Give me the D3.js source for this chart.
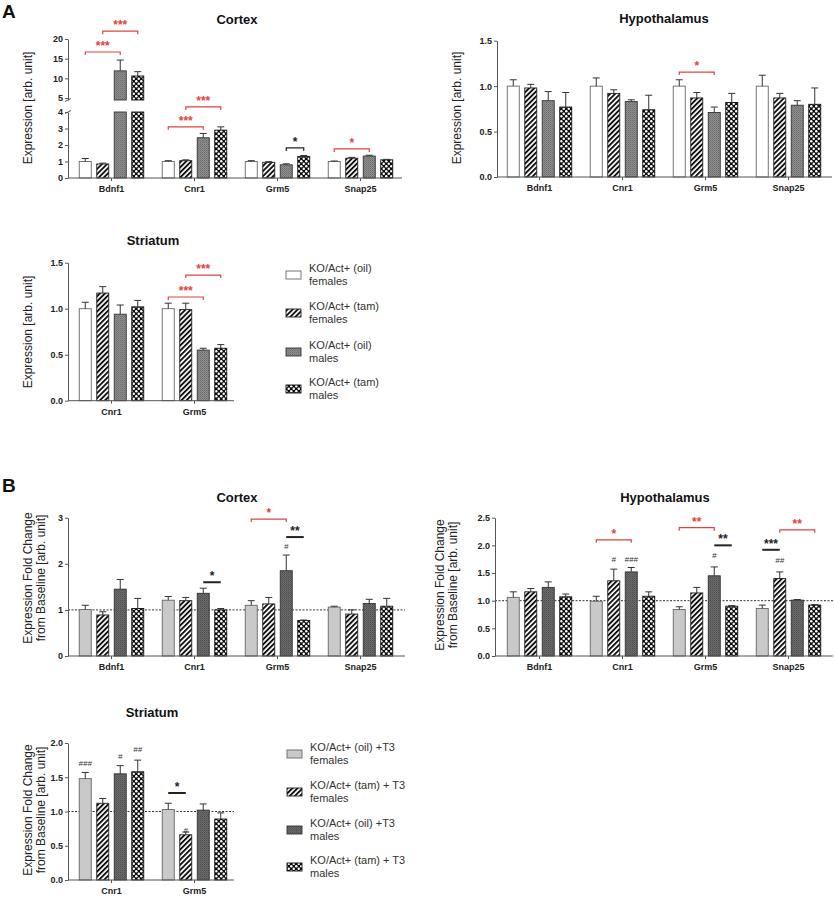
<!DOCTYPE html>
<html><head><meta charset="utf-8">
<script src="https://cdn.jsdelivr.net/npm/d3@7"></script>
<style>
body{margin:0;background:#fff;}
svg{display:block;font-family:"Liberation Sans",Arial,Helvetica,sans-serif;}
</style></head><body>
<svg id="c" width="834" height="900"></svg>
<script>
// ---------- DATA ----------
const genes4 = ["Bdnf1","Cnr1","Grm5","Snap25"];
const genes2 = ["Cnr1","Grm5"];
const legendA = ["KO/Act+ (oil)","KO/Act+ (tam)","KO/Act+ (oil)","KO/Act+ (tam)"];
const legendB = ["KO/Act+ (oil) +T3","KO/Act+ (tam) + T3","KO/Act+ (oil) +T3","KO/Act+ (tam) + T3"];
const legendSex = ["females","females","males","males"];

const aCortexTicksLow = [0,1,2,3,4];
const aCortexTicksHigh = [5,10,15,20];
const aHypoTicks = [0,0.5,1,1.5];
const aStriTicks = [0,0.5,1,1.5];
const bCortexTicks = [0,1,2,3];
const bHypoTicks = [0,0.5,1,1.5,2,2.5];
const bStriTicks = [0,0.5,1,1.5,2];

const aCortexMean = [[1.0,0.85,11.9,10.6],[1.0,1.05,2.44,2.9],[1.0,0.95,0.8,1.3],[1.0,1.2,1.33,1.1]];
const aCortexSem  = [[0.18,0.05,2.75,1.1],[0.05,0.05,0.26,0.2],[0.05,0.04,0.06,0.06],[0.03,0.05,0.05,0.03]];
const aHypoMean = [[1.0,0.98,0.84,0.77],[1.0,0.92,0.83,0.74],[1.0,0.87,0.71,0.82],[1.0,0.87,0.79,0.80]];
const aHypoSem  = [[0.07,0.04,0.10,0.16],[0.09,0.04,0.02,0.16],[0.07,0.06,0.06,0.10],[0.12,0.05,0.05,0.18]];
const aStriMean = [[1.0,1.17,0.94,1.02],[1.0,0.99,0.55,0.57]];
const aStriSem  = [[0.07,0.07,0.10,0.07],[0.06,0.07,0.02,0.04]];
const bCortexMean = [[1.01,0.89,1.45,1.03],[1.21,1.2,1.36,1.0],[1.1,1.13,1.85,0.77],[1.06,0.91,1.14,1.08]];
const bCortexSem  = [[0.09,0.07,0.21,0.22],[0.08,0.07,0.11,0.03],[0.1,0.14,0.34,0.01],[0.02,0.09,0.09,0.17]];
const bHypoMean = [[1.06,1.16,1.24,1.07],[0.99,1.36,1.52,1.08],[0.84,1.14,1.45,0.9],[0.86,1.4,1.01,0.92]];
const bHypoSem  = [[0.1,0.06,0.1,0.05],[0.09,0.21,0.08,0.08],[0.05,0.1,0.16,0.01],[0.06,0.12,0.01,0.01]];
const bStriMean = [[1.48,1.12,1.55,1.58],[1.03,0.66,1.02,0.89]];
const bStriSem  = [[0.09,0.07,0.12,0.17],[0.09,0.04,0.09,0.09]];

// significance annotations (heights in data units)
const aCortexSig = [
  {gene:"Bdnf1",a:0,b:2,v:16.7,t:"***",red:true,kind:"bracket"},
  {gene:"Bdnf1",a:1,b:3,v:22,t:"***",red:true,kind:"bracket"},
  {gene:"Cnr1",a:0,b:2,v:3.1,t:"***",red:true,kind:"bracket"},
  {gene:"Cnr1",a:1,b:3,v:4.21,t:"***",red:true,kind:"bracket"},
  {gene:"Grm5",a:2,b:3,v:1.82,t:"*",red:false,kind:"bracket"},
  {gene:"Snap25",a:0,b:2,v:1.76,t:"*",red:true,kind:"bracket"}
];
const aHypoSig = [{gene:"Grm5",a:0,b:2,v:1.155,t:"*",red:true,kind:"bracket"}];
const aStriSig = [
  {gene:"Grm5",a:0,b:2,v:1.127,t:"***",red:true,kind:"bracket"},
  {gene:"Grm5",a:1,b:3,v:1.366,t:"***",red:true,kind:"bracket"}
];
const bCortexSig = [
  {gene:"Cnr1",a:2,b:3,v:1.6,t:"*",red:false,kind:"line"},
  {gene:"Grm5",a:0,b:2,v:2.97,t:"*",red:true,kind:"bracket"},
  {gene:"Grm5",a:2,b:3,v:2.58,t:"**",red:false,kind:"line"}
];
const bCortexHash = [{gene:"Grm5",bar:2,v:2.39,t:"#"}];
const bHypoSig = [
  {gene:"Cnr1",a:0,b:2,v:2.1,t:"*",red:true,kind:"bracket"},
  {gene:"Grm5",a:0,b:2,v:2.32,t:"**",red:true,kind:"bracket"},
  {gene:"Grm5",a:2,b:3,v:2.0,t:"**",red:false,kind:"line"},
  {gene:"Snap25",a:0,b:1,v:1.92,t:"***",red:false,kind:"line"},
  {gene:"Snap25",a:1,b:3,v:2.28,t:"**",red:true,kind:"bracket"}
];
const bHypoHash = [
  {gene:"Cnr1",bar:1,v:1.75,t:"#"},
  {gene:"Cnr1",bar:2,v:1.75,t:"###"},
  {gene:"Grm5",bar:2,v:1.83,t:"#"},
  {gene:"Snap25",bar:1,v:1.74,t:"##"}
];
const bStriSig = [{gene:"Grm5",a:0,b:1,v:1.27,t:"*",red:false,kind:"line"}];
const bStriHash = [
  {gene:"Cnr1",bar:0,v:1.71,t:"###"},
  {gene:"Cnr1",bar:2,v:1.81,t:"#"},
  {gene:"Cnr1",bar:3,v:1.91,t:"##"},
  {gene:"Grm5",bar:1,v:0.73,t:"#"}
];

// ---------- SETUP ----------
const svg = d3.select("#c");
const defs = svg.append("defs");
const RED = "#e2433d";

function pat(id, w, h, transform) {
  const p = defs.append("pattern").attr("id", id).attr("patternUnits","userSpaceOnUse")
    .attr("width", w).attr("height", h);
  if (transform) p.attr("patternTransform", transform);
  return p;
}
let p = pat("hatch", 3.6, 3.6, "rotate(45)");
p.append("rect").attr("width",3.6).attr("height",3.6).attr("fill","#fff");
p.append("rect").attr("width",1.9).attr("height",3.6).attr("fill","#111");

p = pat("grayA", 2, 2);
p.append("rect").attr("width",2).attr("height",2).attr("fill","#8e8e8e");
p.append("rect").attr("width",1).attr("height",1).attr("fill","#6c6c6c");
p.append("rect").attr("x",1).attr("y",1).attr("width",1).attr("height",1).attr("fill","#7c7c7c");

p = pat("grayB", 2, 2);
p.append("rect").attr("width",2).attr("height",2).attr("fill","#6c6c6c");
p.append("rect").attr("width",1).attr("height",1).attr("fill","#4e4e4e");
p.append("rect").attr("x",1).attr("y",1).attr("width",1).attr("height",1).attr("fill","#5c5c5c");

p = pat("dots", 5, 5);
p.append("rect").attr("width",5).attr("height",5).attr("fill","#0c0c0c");
p.append("circle").attr("cx",1.25).attr("cy",1.25).attr("r",1.25).attr("fill","#fff");
p.append("circle").attr("cx",3.75).attr("cy",3.75).attr("r",1.25).attr("fill","#fff");

const fillsA = ["#ffffff","url(#hatch)","url(#grayA)","url(#dots)"];
const fillsB = ["#c9c9c9","url(#hatch)","url(#grayB)","url(#dots)"];
const strokes = ["#666","#222","#333","#111"];

function drawPanel(cfg) {
  const g = svg.append("g");
  const x0 = d3.scaleBand().domain(cfg.genes).range(cfg.xr).paddingInner(0.223).paddingOuter(0.1115);
  const x1 = d3.scaleBand().domain(d3.range(4)).range([0, x0.bandwidth()]).paddingInner(0.314).paddingOuter(0);
  const y = d3.scaleLinear().domain(cfg.yDomain).range(cfg.yRange);
  const bw = x1.bandwidth();
  const y0 = y(0);
  const cx = (gene, i) => x0(gene) + x1(i) + bw / 2;

  // reference dotted line
  if (cfg.ref) {
    g.append("line").attr("x1", cfg.axisX[0]).attr("x2", cfg.axisX[1])
      .attr("y1", y(1)).attr("y2", y(1))
      .attr("stroke","#333").attr("stroke-width",1).attr("stroke-dasharray","2,1.5");
  }

  // bars
  cfg.genes.forEach((gene, gi) => {
    cfg.mean[gi].forEach((m, i) => {
      const xx = x0(gene) + x1(i);
      const segs = [];
      if (cfg.brk && m > cfg.brk[0]) {
        segs.push([0, cfg.brk[0]]);
        segs.push([cfg.brk[1], m]);
      } else segs.push([0, m]);
      segs.forEach(s => {
        g.append("rect").attr("x", xx).attr("width", bw)
          .attr("y", y(s[1])).attr("height", y(s[0]) - y(s[1]))
          .attr("fill", cfg.fills[i]).attr("stroke", strokes[i]).attr("stroke-width", 0.9);
      });
      // error bar
      const top = m + cfg.sem[gi][i];
      const c = xx + bw / 2;
      g.append("line").attr("x1", c).attr("x2", c).attr("y1", y(m)).attr("y2", y(top))
        .attr("stroke","#333").attr("stroke-width",1);
      g.append("line").attr("x1", c - 3.5).attr("x2", c + 3.5).attr("y1", y(top)).attr("y2", y(top))
        .attr("stroke","#333").attr("stroke-width",1);
    });
  });

  // axes
  const axisColor = "#555";
  if (cfg.brk) {
    const lo = d3.scaleLinear().domain([0, cfg.brk[0]]).range([y(0), y(cfg.brk[0])]);
    const hi = d3.scaleLinear().domain([cfg.brk[1], cfg.yDomain[cfg.yDomain.length-1]])
      .range([y(cfg.brk[1]), y(cfg.yDomain[cfg.yDomain.length-1])]);
    [[lo, cfg.ticksLow],[hi, cfg.ticksHigh]].forEach(([sc, tk]) => {
      const ax = g.append("g").attr("transform", `translate(${cfg.axisX[0]},0)`)
        .attr("color", axisColor)
        .call(d3.axisLeft(sc).tickValues(tk).tickSize(3).tickSizeOuter(0).tickPadding(2).tickFormat(d3.format("d")));
      ax.selectAll("text").attr("font-size", 9).attr("font-weight","bold").attr("fill","#222");
    });
    // break marks
    [cfg.brk[0], cfg.brk[1]].forEach(v => {
      g.append("line").attr("x1", cfg.axisX[0] - 3).attr("x2", cfg.axisX[0] + 3)
        .attr("y1", y(v) + 1.5).attr("y2", y(v) - 1.5).attr("stroke", axisColor).attr("stroke-width",1);
    });
  } else {
    const ax = g.append("g").attr("transform", `translate(${cfg.axisX[0]},0)`)
      .attr("color", axisColor)
      .call(d3.axisLeft(y).tickValues(cfg.ticks).tickSize(3).tickSizeOuter(0).tickPadding(2)
        .tickFormat(d3.format(cfg.fmt)));
    ax.selectAll("text").attr("font-size", 9).attr("font-weight","bold").attr("fill","#222");
  }
  // x axis
  g.append("line").attr("x1", cfg.axisX[0]).attr("x2", cfg.axisX[1]).attr("y1", y0).attr("y2", y0)
    .attr("stroke", axisColor).attr("stroke-width", 1);
  const xa = g.append("g").attr("transform", `translate(0,${y0})`).attr("color", axisColor)
    .call(d3.axisBottom(x0).tickSize(3).tickPadding(5).tickSizeOuter(0));
  xa.select(".domain").remove();
  xa.selectAll("text").attr("font-size", 9).attr("font-weight","bold").attr("fill","#222");

  // significance
  cfg.sig.forEach(s => {
    const xa_ = cx(s.gene, s.a), xb_ = cx(s.gene, s.b), yy = y(s.v);
    const col = s.red ? RED : "#222";
    if (s.kind === "bracket") {
      g.append("path").attr("d", `M${xa_},${yy + 3}V${yy}H${xb_}V${yy + 3}`)
        .attr("fill","none").attr("stroke", col).attr("stroke-width", 1.2);
    } else {
      g.append("line").attr("x1", xa_).attr("x2", xb_).attr("y1", yy).attr("y2", yy)
        .attr("stroke", col).attr("stroke-width", 2);
    }
    g.append("text").attr("x", (xa_ + xb_) / 2).attr("y", yy - 2)
      .attr("text-anchor","middle").attr("font-size", 12).attr("font-weight","bold")
      .attr("fill", col).text(s.t);
  });
  (cfg.hash || []).forEach(h => {
    g.append("text").attr("x", cx(h.gene, h.bar)).attr("y", y(h.v) + 3)
      .attr("text-anchor","middle").attr("font-size", 8).attr("font-style","italic")
      .attr("fill","#333").text(h.t);
  });

  // title
  g.append("text").attr("x", cfg.title[1]).attr("y", cfg.title[2]).attr("text-anchor","middle")
    .attr("font-size", 13).attr("font-weight","bold").attr("fill","#111").text(cfg.title[0]);
  // y label
  const yl = g.append("text").attr("transform", `translate(${cfg.ylab[0]},${cfg.ylab[1]}) rotate(-90)`)
    .attr("text-anchor","middle").attr("font-size", 12).attr("fill","#222");
  cfg.ylabel.forEach((t, i) => {
    yl.append("tspan").attr("x", 0).attr("dy", i === 0 ? 0 : 13).text(t);
  });
}

function drawLegend(x, ys, labels, fills) {
  const g = svg.append("g");
  labels.forEach((lab, i) => {
    g.append("rect").attr("x", x).attr("y", ys[i] - 1).attr("width", 15).attr("height", 8)
      .attr("fill", fills[i]).attr("stroke", strokes[i]).attr("stroke-width", 0.9);
    const t = g.append("text").attr("x", x + 23).attr("y", ys[i]).attr("font-size", 11).attr("fill","#333");
    t.append("tspan").attr("x", x + 23).attr("dy", 0).text(lab);
    t.append("tspan").attr("x", x + 23).attr("dy", 12.5).text(legendSex[i]);
  });
}

// ---------- PANELS ----------
const ylA = ["Expression [arb. unit]"];
const ylB = ["Expression Fold Change","from Baseline [arb. unit]"];

drawPanel({genes: genes4, mean: aCortexMean, sem: aCortexSem, xr:[70,402], axisX:[68,402],
  yDomain:[0,4,4.5,20], yRange:[178,112,100,39], brk:[4,4.5], ticksLow: aCortexTicksLow, ticksHigh: aCortexTicksHigh,
  fills: fillsA, sig: aCortexSig, title:["Cortex",237,24], ylabel: ylA, ylab:[32,108]});
drawPanel({genes: genes4, mean: aHypoMean, sem: aHypoSem, xr:[498,830], axisX:[497,832],
  yDomain:[0,1.5], yRange:[177,40.7], ticks: aHypoTicks, fmt:".1f",
  fills: fillsA, sig: aHypoSig, title:["Hypothalamus",664,23], ylabel: ylA, ylab:[461,108]});
drawPanel({genes: genes2, mean: aStriMean, sem: aStriSem, xr:[70,236], axisX:[68,234],
  yDomain:[0,1.5], yRange:[400.7,262.7], ticks: aStriTicks, fmt:".1f",
  fills: fillsA, sig: aStriSig, title:["Striatum",153,245], ylabel: ylA, ylab:[32,332]});
drawPanel({genes: genes4, mean: bCortexMean, sem: bCortexSem, xr:[70,402], axisX:[68,405],
  yDomain:[0,3], yRange:[656,517.7], ticks: bCortexTicks, fmt:"d", ref:true,
  fills: fillsB, sig: bCortexSig, hash: bCortexHash, title:["Cortex",237,502], ylabel: ylB, ylab:[32,578]});
drawPanel({genes: genes4, mean: bHypoMean, sem: bHypoSem, xr:[498,830], axisX:[495,833],
  yDomain:[0,2.5], yRange:[656,517.7], ticks: bHypoTicks, fmt:".1f", ref:true,
  fills: fillsB, sig: bHypoSig, hash: bHypoHash, title:["Hypothalamus",665,502], ylabel: ylB, ylab:[444,585]});
drawPanel({genes: genes2, mean: bStriMean, sem: bStriSem, xr:[70,236], axisX:[68,234],
  yDomain:[0,2], yRange:[880,743], ticks: bStriTicks, fmt:".1f", ref:true,
  fills: fillsB, sig: bStriSig, hash: bStriHash, title:["Striatum",152,717], ylabel: ylB, ylab:[32,810]});

drawLegend(286, [272,310,349,386], legendA, fillsA);
drawLegend(287, [751,789,827,864], legendB, fillsB);

// panel letters
svg.append("text").attr("x", 2).attr("y", 18).attr("font-size", 19).attr("font-weight","bold").attr("fill","#111").text("A");
svg.append("text").attr("x", 2).attr("y", 492).attr("font-size", 19).attr("font-weight","bold").attr("fill","#111").text("B");
</script>
</body></html>
